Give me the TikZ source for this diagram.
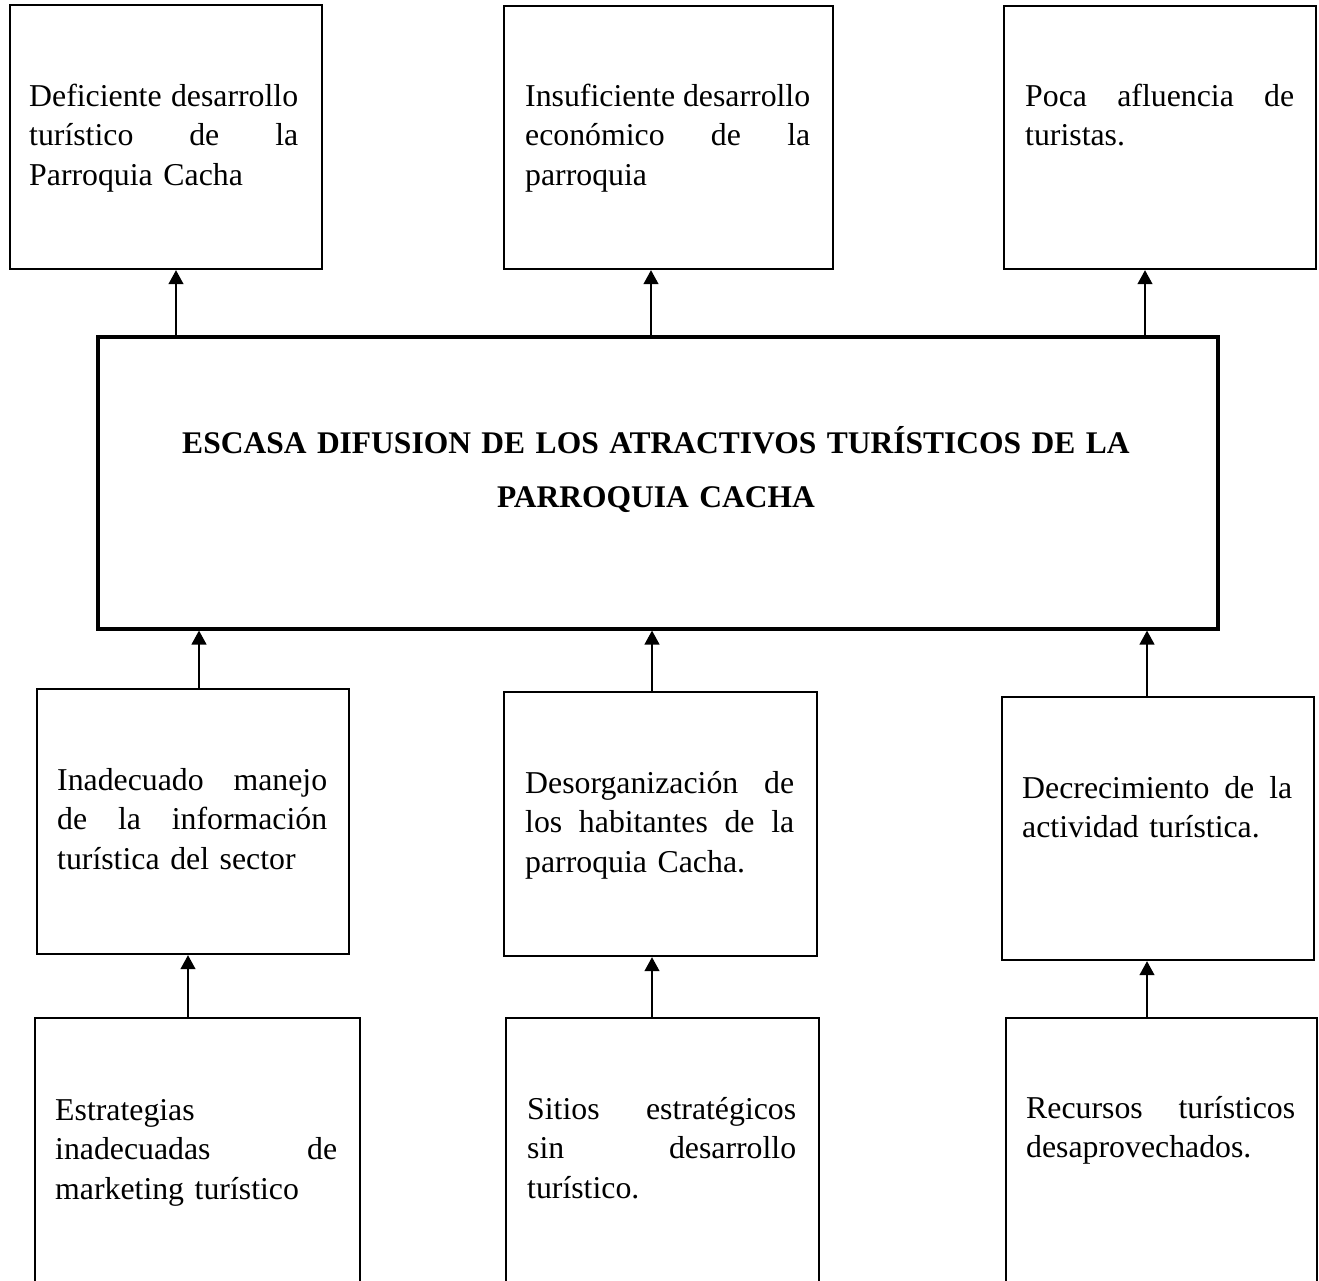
\documentclass[tikz,border=0pt]{standalone}
\usepackage{fontspec}
\setmainfont{Liberation Serif}
\usetikzlibrary{arrows.meta}
\newcommand{\J}[1]{\noindent\hbox to\hsize{#1}}
\tikzset{
  box/.style={draw, line width=2.2pt, anchor=north west, inner sep=0pt},
  bigbox/.style={draw, line width=3.6pt, anchor=north west, inner sep=0pt},
  txt/.style={anchor=base west, inner sep=0pt, align=left, font=\fontsize{31.8}{39.5}\selectfont},
  ttl/.style={anchor=base, inner sep=0pt, align=center, text width=1100pt, font=\bfseries\fontsize{31.5}{54}\selectfont},
  arr/.style={-{Triangle[width=15pt,length=14pt]}, line width=1.3pt},
}
\begin{document}
\begin{tikzpicture}[x=1pt,y=-1pt]
\useasboundingbox (0,0) rectangle (1319,1280);
\fill[white] (0,0) rectangle (1319,1280);

% effect boxes (top row)
\node[box, minimum width=312pt, minimum height=264pt] (A) at (9,4) {};
\node[box, minimum width=329pt, minimum height=263pt] (B) at (503,5) {};
\node[box, minimum width=312pt, minimum height=263pt] (C) at (1003,5) {};
% central problem
\node[bigbox, minimum width=1120pt, minimum height=292pt] (M) at (96,335) {};
% cause boxes (middle row)
\node[box, minimum width=312pt, minimum height=265pt] (D) at (36,688) {};
\node[box, minimum width=313pt, minimum height=264pt] (E) at (503,691) {};
\node[box, minimum width=312pt, minimum height=263pt] (F) at (1001,696) {};
% root cause boxes (bottom row)
\node[box, minimum width=325pt, minimum height=290pt] (G) at (34,1017) {};
\node[box, minimum width=313pt, minimum height=290pt] (H) at (505,1017) {};
\node[box, minimum width=311pt, minimum height=290pt] (I) at (1005,1017) {};

% texts
\node[txt, text width=269pt] (tA) at (29,106) {\J{Deficiente\hfill desarrollo}\\\J{turístico\hfill de\hfill la}\\Parroquia Cacha};
\node[txt, text width=285pt] (tB) at (525,106) {\J{Insuficiente\hfill desarrollo}\\\J{económico\hfill de\hfill la}\\parroquia};
\node[txt, text width=269pt] (tC) at (1025,106) {\J{Poca\hfill afluencia\hfill de}\\turistas.};
\node[ttl] (tM) at (656,453) {ESCASA DIFUSION DE LOS ATRACTIVOS TURÍSTICOS DE LA\\PARROQUIA CACHA\hspace*{14pt}};
\node[txt, text width=270pt] (tD) at (57,790) {\J{Inadecuado\hfill manejo}\\\J{de\hfill la\hfill información}\\turística del sector};
\node[txt, text width=269pt] (tE) at (525,793) {\J{Desorganización\hfill de}\\\J{los\hfill habitantes\hfill de\hfill la}\\parroquia Cacha.};
\node[txt, text width=270pt] (tF) at (1022,798) {\J{Decrecimiento\hfill de\hfill la}\\actividad turística.};
\node[txt, text width=282pt] (tG) at (55,1120) {Estrategias\\\J{inadecuadas\hfill de}\\marketing turístico};
\node[txt, text width=269pt] (tH) at (527,1119) {\J{Sitios\hfill estratégicos}\\\J{sin\hfill desarrollo}\\turístico.};
\node[txt, text width=269pt] (tI) at (1026,1118) {\J{Recursos\hfill turísticos}\\desaprovechados.};

% connector columns
\coordinate (xa) at (176,0);
\coordinate (xb) at (651,0);
\coordinate (xc) at (1145,0);
\coordinate (xd) at (199,0);
\coordinate (xe) at (652,0);
\coordinate (xf) at (1147,0);
\coordinate (xg) at (188,0);

% connectors
\draw[arr] (M.north -| xa) -- (A.south -| xa);
\draw[arr] (M.north -| xb) -- (B.south -| xb);
\draw[arr] (M.north -| xc) -- (C.south -| xc);
\draw[arr] (D.north -| xd) -- (M.south -| xd);
\draw[arr] (E.north -| xe) -- (M.south -| xe);
\draw[arr] (F.north -| xf) -- (M.south -| xf);
\draw[arr] (G.north -| xg) -- (D.south -| xg);
\draw[arr] (H.north -| xe) -- (E.south -| xe);
\draw[arr] (I.north -| xf) -- (F.south -| xf);
\end{tikzpicture}
\end{document}
